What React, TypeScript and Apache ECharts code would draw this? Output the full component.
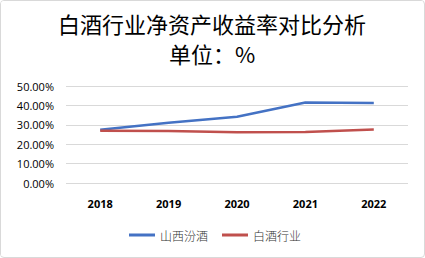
import React, { useEffect, useRef } from "react";
import * as echarts from "echarts";

const years = ["2018", "2019", "2020", "2021", "2022"];
const fenjiu = [27.5, 31.0, 34.2, 41.5, 41.2];
const industry = [26.9, 26.8, 26.2, 26.3, 27.6];
const seriesNames = ["山西汾酒", "白酒行业"];

export default function App() {
  const ref = useRef<HTMLDivElement>(null);
  useEffect(() => {
    const chart = echarts.init(ref.current!, null, { renderer: "svg" });
    chart.setOption({
      animation: false,
      backgroundColor: "#ffffff",
      title: {
        text: "白酒行业净资产收益率对比分析\n单位：%",
        left: "center",
        top: 2,
        textStyle: {
          fontFamily: "Noto Sans CJK SC",
          fontSize: 22,
          fontWeight: "normal",
          color: "#000000",
          lineHeight: 30,
        },
      },
      legend: {
        bottom: 10,
        left: 123,
        itemWidth: 26,
        itemHeight: 3,
        itemGap: 14,
        icon: "rect",
        textStyle: { fontFamily: "Noto Sans CJK SC", fontSize: 12, color: "#333333", fontWeight: 300 },
        data: seriesNames,
      },
      grid: { left: 65, right: 15, top: 85, bottom: 73, containLabel: false },
      xAxis: {
        type: "category",
        data: years,
        boundaryGap: true,
        axisLine: { show: false },
        axisTick: { show: false },
        axisLabel: { fontFamily: "Open Sans", fontSize: 11, color: "#000000", margin: 15, fontWeight: "bold" },
      },
      yAxis: {
        type: "value",
        min: 0,
        max: 50,
        interval: 10,
        axisLabel: {
          fontFamily: "Open Sans",
          fontSize: 11,
          color: "#000000",
          margin: 12,
          formatter: (v: number) => v.toFixed(2) + "%",
        },
        splitLine: { lineStyle: { color: "#d9d9d9", width: 1 } },
      },
      series: [
        {
          name: seriesNames[0],
          type: "line",
          data: fenjiu,
          symbol: "none",
          lineStyle: { color: "#4472c4", width: 2.5 },
          itemStyle: { color: "#4472c4" },
        },
        {
          name: seriesNames[1],
          type: "line",
          data: industry,
          symbol: "none",
          lineStyle: { color: "#c0504d", width: 2.5 },
          itemStyle: { color: "#c0504d" },
        },
      ],
    });
    return () => chart.dispose();
  }, []);
  return (
    <div
      style={{
        position: "absolute",
        left: 0,
        top: 0,
        width: 425,
        height: 258,
        boxSizing: "border-box",
        border: "1px solid #d9d9d9",
        borderRadius: 4,
        overflow: "hidden",
        background: "#fff",
      }}
    >
      <div ref={ref} style={{ width: 422, height: 255 }} />
    </div>
  );
}
